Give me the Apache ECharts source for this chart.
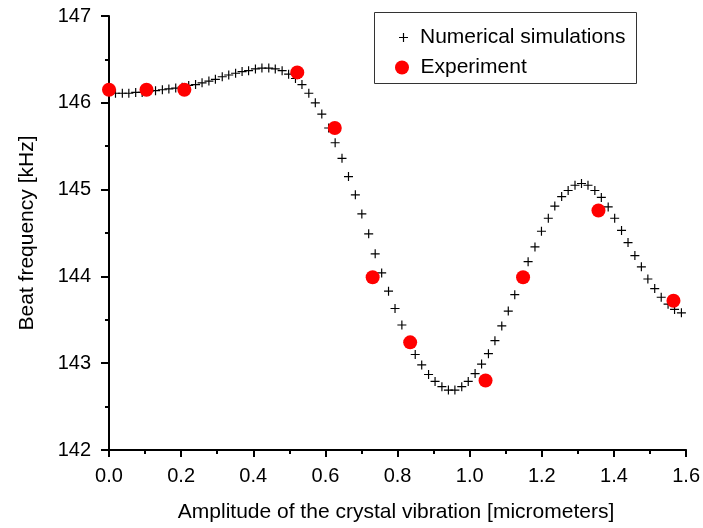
<!DOCTYPE html>
<html>
<head>
<meta charset="utf-8">
<script src="https://cdn.jsdelivr.net/npm/echarts@6/dist/echarts.min.js"></script>
<style>html,body{margin:0;padding:0;background:#fff}#c{width:703px;height:528px}</style>
</head>
<body>
<div id="c"></div>
<script>
// Numerical simulations (x in micrometers, y in kHz)
const simX = [0.000,0.018,0.037,0.055,0.074,0.092,0.111,0.129,0.148,0.166,
  0.185,0.203,0.221,0.240,0.258,0.277,0.295,0.314,0.332,0.351,
  0.369,0.387,0.406,0.424,0.443,0.461,0.480,0.498,0.517,0.535,
  0.554,0.572,0.590,0.609,0.627,0.646,0.664,0.683,0.701,0.720,
  0.738,0.756,0.775,0.793,0.812,0.830,0.849,0.867,0.886,0.904,
  0.923,0.941,0.959,0.978,0.996,1.015,1.033,1.052,1.070,1.089,
  1.107,1.125,1.144,1.162,1.181,1.199,1.218,1.236,1.255,1.273,
  1.292,1.310,1.328,1.347,1.365,1.384,1.402,1.421,1.439,1.458,
  1.476,1.494,1.513,1.531,1.550,1.568,1.587];
const simY = [146.11,146.11,146.11,146.11,146.12,146.12,146.13,146.14,146.15,146.16,
  146.17,146.18,146.20,146.21,146.23,146.25,146.27,146.30,146.32,146.34,
  146.36,146.37,146.39,146.40,146.40,146.39,146.37,146.33,146.28,146.21,
  146.11,146.00,145.87,145.71,145.54,145.36,145.15,144.94,144.72,144.49,
  144.26,144.04,143.83,143.63,143.44,143.26,143.10,142.98,142.87,142.79,
  142.73,142.69,142.69,142.73,142.79,142.88,142.99,143.11,143.26,143.43,
  143.60,143.79,143.98,144.17,144.34,144.52,144.67,144.81,144.92,144.99,
  145.05,145.07,145.05,144.99,144.91,144.80,144.67,144.53,144.39,144.24,
  144.11,143.97,143.86,143.76,143.68,143.62,143.58];
// Experiment
const expX = [0.000,0.104,0.209,0.522,0.626,0.731,0.835,1.044,1.148,1.357,1.565];
const expY = [146.15,146.15,146.15,146.35,145.71,143.99,143.24,142.80,143.99,144.76,143.72];
// Axis ticks
const xMajor = [0,0.2,0.4,0.6,0.8,1.0,1.2,1.4,1.6];
const xMinor = [0.1,0.3,0.5,0.7,0.9,1.1,1.3,1.5];

const FONT = 'Liberation Sans, Arial, sans-serif';
const crossPath = 'path://M4,0h1.2v4h4v1.2h-4v4h-1.2v-4h-4v-1.2h4z';

const chart = echarts.init(document.getElementById('c'), null, {renderer: 'canvas'});
chart.setOption({
  animation: false,
  backgroundColor: '#fff',
  grid: {left: 106, right: 14, top: 16, bottom: 77, containLabel: false},
  xAxis: [{
    type: 'value', min: -0.0083, max: 1.6,
    name: 'Amplitude of the crystal vibration [micrometers]',
    nameLocation: 'middle', nameGap: 52,
    nameTextStyle: {fontFamily: FONT, fontSize: 21, color: '#000'},
    axisLine: {lineStyle: {color: '#000', width: 2}},
    axisTick: {show: true, inside: false, length: 7, customValues: xMajor, lineStyle: {color: '#000', width: 2}},
    axisLabel: {customValues: xMajor, margin: 16, fontFamily: FONT, fontSize: 20, color: '#000',
      formatter: v => Number(v).toFixed(1)},
    splitLine: {show: false}
  }, {
    type: 'value', min: -0.0083, max: 1.6, position: 'bottom',
    axisLine: {show: false},
    axisTick: {show: true, inside: false, length: 4, customValues: xMinor, lineStyle: {color: '#000', width: 2}},
    axisLabel: {show: false},
    splitLine: {show: false}
  }],
  yAxis: {
    type: 'value', min: 142, max: 147, interval: 1,
    name: 'Beat frequency [kHz]',
    nameLocation: 'middle', nameGap: 68,
    nameTextStyle: {fontFamily: FONT, fontSize: 21, color: '#000'},
    axisLine: {show: true, lineStyle: {color: '#000', width: 2}},
    axisTick: {show: true, inside: false, length: 8, lineStyle: {color: '#000', width: 2}},
    minorTick: {show: true, splitNumber: 2, length: 4, lineStyle: {color: '#000', width: 2}},
    axisLabel: {margin: 15, fontFamily: FONT, fontSize: 20, color: '#000'},
    splitLine: {show: false}
  },
  legend: [{
    data: ['Numerical simulations'],
    left: 399, top: 27, orient: 'vertical', padding: 0,
    itemWidth: 23, itemHeight: 9,
    textStyle: {fontFamily: FONT, fontSize: 21, color: '#000'}
  }, {
    data: ['Experiment'],
    left: 395, top: 57, orient: 'vertical', padding: 0,
    itemWidth: 27, itemHeight: 14,
    textStyle: {fontFamily: FONT, fontSize: 21, color: '#000'}
  }],
  graphic: [{
    type: 'rect', left: 374, top: 12, z: 0,
    shape: {width: 262, height: 71},
    style: {fill: '#fff', stroke: '#333', lineWidth: 1}
  }],
  series: [{
    name: 'Numerical simulations', type: 'scatter',
    data: simX.map((x, i) => [x, simY[i]]),
    symbol: crossPath, symbolSize: 9, symbolKeepAspect: true,
    itemStyle: {color: '#000', opacity: 1},
    z: 2
  }, {
    name: 'Experiment', type: 'scatter',
    data: expX.map((x, i) => [x, expY[i]]),
    symbol: 'circle', symbolSize: 14,
    itemStyle: {color: '#ff0000', opacity: 1},
    z: 3
  }]
});
</script>
</body>
</html>
